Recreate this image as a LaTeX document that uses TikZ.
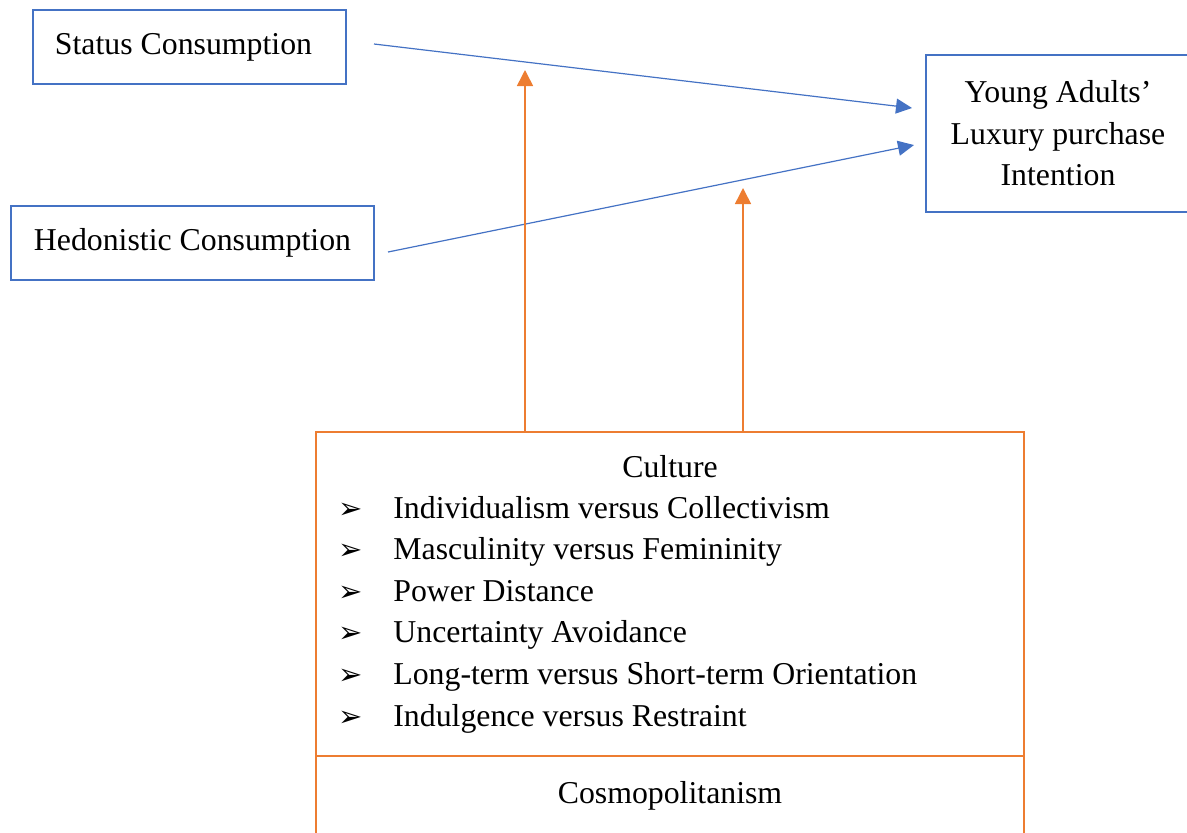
\documentclass[tikz,border=0pt]{standalone}
\usepackage{fontspec}
\setmainfont{Liberation Serif}
\newfontfamily\dingfont{DejaVu Sans}
\usetikzlibrary{arrows.meta}
\definecolor{boxblue}{RGB}{68,114,196}
\definecolor{boxorange}{RGB}{237,125,49}
\newcommand{\bul}{\makebox[27.5pt][l]{\dingfont\fontsize{14.5}{14.5}\selectfont ➢}}
\begin{document}
\begin{tikzpicture}[
    x=0.5pt, y=-0.5pt,
    every node/.style={font=\fontsize{15.9}{20.8}\selectfont},
    factor/.style={rectangle, draw=boxblue, line width=1pt, inner sep=0pt, align=center},
    moderator/.style={rectangle, draw=boxorange, line width=1pt, inner sep=0pt},
    plain/.style={inner sep=0pt},
    bluearrow/.style={boxblue, line width=0.6pt, -{Triangle[length=8pt,width=7.5pt]}},
    orangearrow/.style={boxorange, line width=0.8pt, -{Triangle[length=8pt,width=8pt]}}
]
\useasboundingbox (0,0) rectangle (1187,832);

% Independent variables
\node[factor, minimum width=156.5pt, minimum height=37pt] (status) at (189.5,47) {Status Consumption\hspace{6pt}};
\node[factor, minimum width=181.5pt, minimum height=37pt] (hedonic) at (192.5,243) {Hedonistic Consumption};

% Dependent variable
\node[factor, minimum width=132pt, minimum height=78.5pt] (intention) at (1058,133.5)
    {Young Adults’\\Luxury purchase\\Intention};

% Moderators
\node[moderator, minimum width=354pt, minimum height=162pt] (culture) at (670,594) {};
\node[moderator, minimum width=354pt, minimum height=40pt] (cosmo) at (670,796) {Cosmopolitanism};
\node[plain, anchor=base] (culturetitle) at (670,477) {Culture};
\node[plain, anchor=base west, align=left] (dimensions) at (338,726)
    {\bul Individualism versus Collectivism\\
     \bul Masculinity versus Femininity\\
     \bul Power Distance\\
     \bul Uncertainty Avoidance\\
     \bul Long-term versus Short-term Orientation\\
     \bul Indulgence versus Restraint};

% Arrow ends
\coordinate (s1) at (374,44);
\coordinate (s2) at (912,108);
\coordinate (h1) at (388,252);
\coordinate (h2) at (914,145);
\coordinate (m1) at (525,70);
\coordinate (m2) at (743,188);

% Direct effects
\draw[bluearrow] (s1) -- (s2);
\draw[bluearrow] (h1) -- (h2);

% Moderating effects
\draw[orangearrow] (culture.north -| m1) -- (m1);
\draw[orangearrow] (culture.north -| m2) -- (m2);

\end{tikzpicture}
\end{document}
